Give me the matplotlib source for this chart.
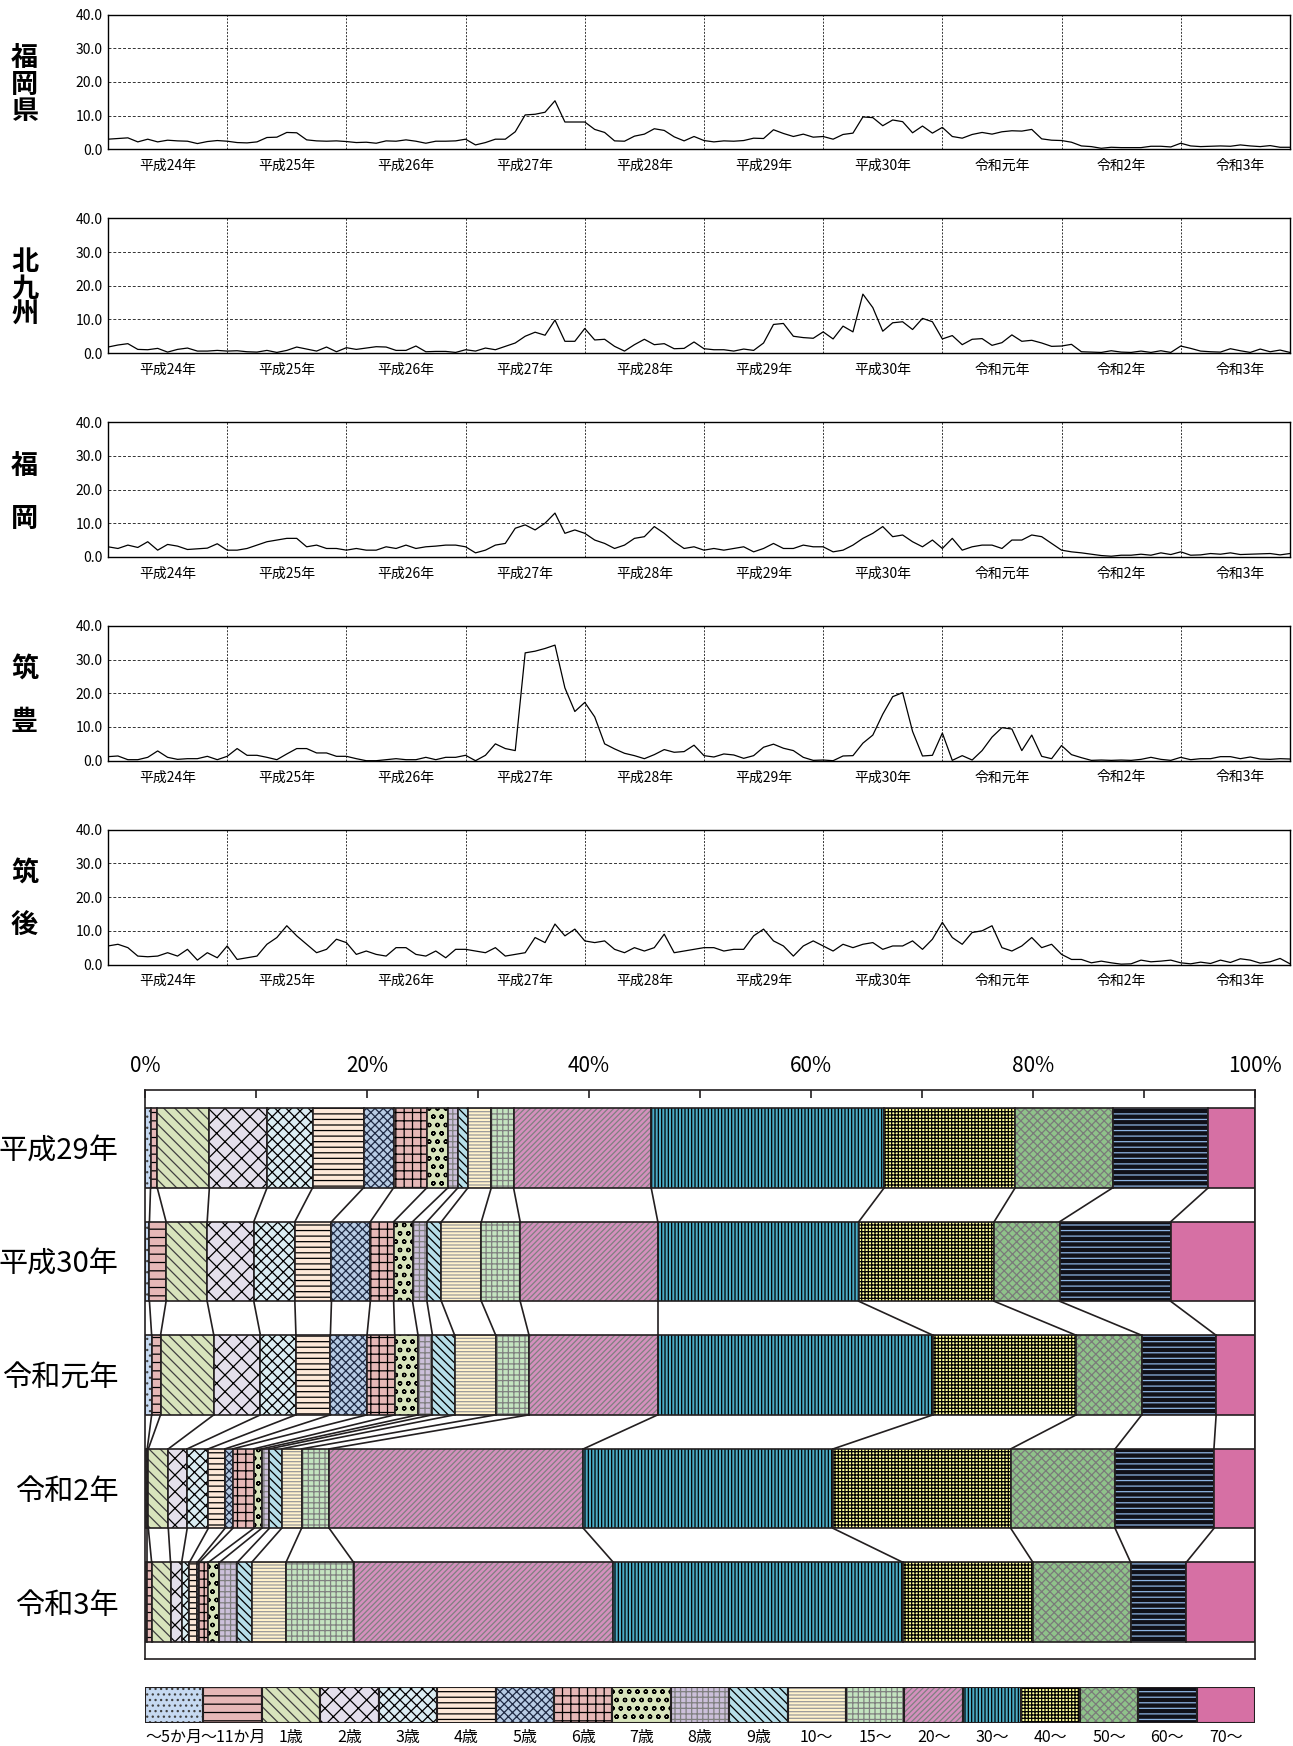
import numpy as np
import matplotlib.pyplot as plt

plt.rcParams['font.family'] = ['Noto Sans CJK JP', 'DejaVu Sans']
plt.rcParams['hatch.linewidth'] = 0.9

# 月別推移（平成24年1月～令和3年12月）
regions = ['福岡県', '北九州', '福岡', '筑豊', '筑後']
year_labels = ['平成24年', '平成25年', '平成26年', '平成27年', '平成28年',
               '平成29年', '平成30年', '令和元年', '令和2年', '令和3年']

fukuoka_pref = [3.0, 3.2, 3.4, 2.2, 3.0, 2.2, 2.7, 2.5, 2.4, 1.7, 2.3, 2.6,
                2.4, 2.0, 1.9, 2.2, 3.5, 3.6, 5.0, 4.9, 2.8, 2.5, 2.4, 2.5,
                2.3, 2.0, 2.1, 1.8, 2.5, 2.4, 2.8, 2.4, 1.8, 2.4, 2.4, 2.5,
                3.0, 1.3, 2.0, 3.0, 3.0, 5.2, 10.2, 10.4, 11.0, 14.4, 8.1, 8.1,
                8.1, 5.9, 5.0, 2.5, 2.4, 3.9, 4.5, 6.1, 5.6, 3.7, 2.5, 3.8,
                2.6, 2.2, 2.5, 2.4, 2.6, 3.3, 3.2, 5.8, 4.7, 3.8, 4.5, 3.6,
                3.8, 3.0, 4.4, 4.8, 9.6, 9.4, 7.0, 8.7, 8.2, 4.9, 6.9, 4.8,
                6.5, 3.8, 3.3, 4.4, 5.0, 4.5, 5.2, 5.5, 5.4, 5.9, 3.1, 2.7,
                2.6, 2.1, 1.0, 0.8, 0.3, 0.6, 0.5, 0.5, 0.5, 0.9, 0.9, 0.7,
                1.8, 1.0, 0.8, 0.9, 1.0, 0.9, 1.3, 1.0, 0.8, 1.1, 0.6, 0.6]
kitakyushu = [1.8, 2.4, 2.8, 1.1, 1.0, 1.4, 0.3, 1.1, 1.5, 0.6, 0.6, 0.8,
              0.6, 0.7, 0.4, 0.3, 0.8, 0.2, 0.8, 1.8, 1.2, 0.6, 1.8, 0.4,
              1.6, 1.1, 1.5, 1.9, 1.8, 0.8, 0.8, 2.1, 0.4, 0.5, 0.5, 0.2,
              1.0, 0.6, 1.5, 1.0, 2.0, 3.0, 5.0, 6.2, 5.3, 9.8, 3.5, 3.5,
              7.3, 3.9, 4.1, 2.0, 0.6, 2.5, 4.1, 2.5, 2.8, 1.3, 1.4, 3.3,
              1.3, 1.0, 1.0, 0.6, 1.2, 0.8, 3.0, 8.5, 8.8, 5.0, 4.6, 4.4,
              6.3, 4.2, 8.0, 6.3, 17.5, 13.5, 6.5, 9.0, 9.3, 7.0, 10.3, 9.3,
              4.2, 5.2, 2.5, 4.1, 4.3, 2.3, 3.1, 5.4, 3.5, 3.8, 3.0, 2.0,
              2.1, 2.6, 0.4, 0.3, 0.2, 0.7, 0.3, 0.2, 0.6, 0.2, 0.7, 0.2,
              2.1, 1.4, 0.6, 0.4, 0.3, 1.3, 0.7, 0.2, 1.2, 0.4, 0.9, 0.2]
fukuoka = [3.0, 2.5, 3.5, 2.8, 4.5, 2.0, 3.7, 3.2, 2.2, 2.4, 2.6, 3.9,
           2.0, 2.0, 2.5, 3.5, 4.5, 5.0, 5.5, 5.5, 3.0, 3.5, 2.5, 2.5,
           2.0, 2.5, 2.0, 2.0, 3.0, 2.5, 3.5, 2.5, 3.0, 3.2, 3.5, 3.5,
           3.0, 1.2, 2.0, 3.5, 4.0, 8.5, 9.5, 8.0, 10.0, 13.0, 7.0, 8.0,
           7.0, 5.0, 4.0, 2.5, 3.5, 5.5, 6.0, 9.0, 7.0, 4.5, 2.5, 3.0,
           2.0, 2.5, 2.0, 2.5, 3.0, 1.5, 2.5, 4.0, 2.5, 2.5, 3.5, 3.0,
           3.0, 1.5, 2.0, 3.5, 5.5, 7.0, 9.0, 6.0, 6.5, 4.5, 3.0, 5.0,
           2.5, 5.5, 2.0, 3.0, 3.5, 3.5, 2.5, 5.0, 5.0, 6.5, 6.0, 4.0,
           2.0, 1.5, 1.2, 0.8, 0.4, 0.2, 0.5, 0.5, 0.8, 0.5, 1.2, 0.7,
           1.5, 0.5, 0.6, 1.0, 0.8, 1.2, 0.7, 0.8, 0.9, 1.0, 0.6, 1.0]
chikuho = [1.2, 1.4, 0.3, 0.3, 1.0, 2.9, 1.0, 0.4, 0.6, 0.6, 1.3, 0.3,
           1.3, 3.6, 1.6, 1.6, 1.0, 0.3, 2.0, 3.6, 3.6, 2.3, 2.3, 1.3,
           1.3, 0.6, 0.0, 0.0, 0.3, 0.6, 0.3, 0.3, 1.0, 0.3, 1.0, 1.0,
           1.6, 0.0, 1.6, 5.0, 3.6, 3.0, 32.0, 32.5, 33.3, 34.3, 21.6, 14.6,
           17.3, 13.0, 5.0, 3.5, 2.2, 1.5, 0.6, 1.8, 3.3, 2.5, 2.7, 4.6,
           1.5, 1.1, 2.0, 1.7, 0.7, 1.5, 4.0, 4.9, 3.7, 3.0, 1.0, 0.1,
           0.2, 0.0, 1.4, 1.5, 5.2, 7.6, 13.8, 19.0, 20.2, 8.7, 1.4, 1.6,
           8.2, 0.1, 1.5, 0.2, 3.0, 7.0, 9.8, 9.4, 3.0, 7.6, 1.3, 0.6,
           4.5, 1.8, 0.9, 0.1, 0.2, 0.1, 0.2, 0.1, 0.4, 1.0, 0.4, 0.1,
           1.0, 0.3, 0.6, 0.6, 1.2, 1.2, 0.6, 1.1, 0.5, 0.4, 0.6, 0.5]
chikugo = [5.5, 6.0, 5.0, 2.5, 2.3, 2.5, 3.5, 2.5, 4.5, 1.3, 3.5, 2.0,
           5.5, 1.5, 2.0, 2.5, 6.0, 8.0, 11.5, 8.5, 6.0, 3.5, 4.5, 7.5,
           6.5, 3.0, 4.0, 3.0, 2.5, 5.0, 5.0, 3.0, 2.5, 4.0, 2.0, 4.5,
           4.5, 4.0, 3.5, 5.0, 2.5, 3.0, 3.5, 8.0, 6.5, 12.0, 8.5, 10.5,
           7.0, 6.5, 7.0, 4.5, 3.5, 5.0, 4.0, 5.0, 9.0, 3.5, 4.0, 4.5,
           5.0, 5.0, 4.0, 4.5, 4.5, 8.5, 10.5, 7.0, 5.5, 2.5, 5.5, 7.0,
           5.5, 4.0, 6.0, 5.0, 6.0, 6.5, 4.5, 5.5, 5.5, 7.0, 4.5, 7.5,
           12.5, 8.0, 6.0, 9.5, 10.0, 11.5, 5.0, 4.0, 5.5, 8.0, 5.0, 6.0,
           3.0, 1.5, 1.5, 0.5, 1.0, 0.5, 0.1, 0.2, 1.3, 0.8, 1.0, 1.3,
           0.5, 0.2, 0.7, 0.3, 1.3, 0.6, 1.7, 1.3, 0.4, 0.8, 1.8, 0.2]
series = [fukuoka_pref, kitakyushu, fukuoka, chikuho, chikugo]

# 年齢別割合（%）
bar_years = ['平成29年', '平成30年', '令和元年', '令和2年', '令和3年']
age_groups = ['～5か月', '～11か月', '1歳', '2歳', '3歳', '4歳', '5歳', '6歳', '7歳',
              '8歳', '9歳', '10～', '15～', '20～', '30～', '40～', '50～', '60～', '70～']
share_h29 = [0.5, 0.6, 4.7, 5.2, 4.1, 4.6, 2.7, 3.0, 1.9, 0.9, 0.9, 2.1, 2.0, 12.4, 21.0, 11.8, 8.8, 8.6, 4.2]
share_h30 = [0.4, 1.5, 3.7, 4.2, 3.7, 3.3, 3.5, 2.1, 1.7, 1.3, 1.3, 3.6, 3.5, 12.4, 18.1, 12.2, 5.9, 10.0, 7.6]
share_r1 = [0.6, 0.8, 4.8, 4.2, 3.2, 3.1, 3.3, 2.5, 2.1, 1.3, 2.0, 3.7, 3.0, 11.6, 24.8, 12.9, 5.9, 6.7, 3.5]
share_r2 = [0.2, 0.1, 1.8, 1.7, 1.9, 1.5, 0.7, 1.9, 0.7, 0.7, 1.1, 1.8, 2.5, 22.9, 22.5, 16.0, 9.4, 8.9, 3.7]
share_r3 = [0.2, 0.4, 1.7, 1.0, 0.7, 0.7, 0.2, 0.8, 1.0, 1.6, 1.3, 3.1, 6.1, 23.4, 26.1, 11.7, 8.8, 5.0, 6.2]

face_colors = ['#c6d9f1', '#e6b8b7', '#d8e4bc', '#e4dfec', '#dbeef3', '#fde9d9', '#b8cce4',
               '#e6b8b7', '#d8e4bc', '#ccc0da', '#b7dee8', '#fff2cc', '#c4e4c0', '#d490bd',
               '#4bacc6', '#ffff99', '#8fc28a', '#101018', '#d670a4']
hatch_colors = ['#404040', '#000000', '#404040', '#000000', '#000000', '#000000', '#1f2a44',
                '#000000', '#000000', '#808080', '#000000', '#999999', '#808080', '#808080',
                '#000000', '#000000', '#7a7a7a', '#8db3e2', '#d670a4']
hatches = ['...', '--', '\\\\\\', 'xx', 'xxx', '---', 'xxxx', '++', 'oo', '+++', '\\\\\\\\',
           '-----', '+++', '//////', '|||||', '+++++', 'xxxx', '---', '']

W, H = 1293, 1746
fig = plt.figure(figsize=(W / 100, H / 100), dpi=100)

x = np.arange(120)
for k, (name, vals) in enumerate(zip(regions, series)):
    top = 14.5 + 203.8 * k
    ax = fig.add_axes([108 / W, 1 - (top + 134.8) / H, 1182 / W, 134.8 / H])
    ax.plot(x, vals, color='black', lw=0.9)
    ax.set_xlim(0, 119)
    ax.set_ylim(0, 40)
    ax.set_yticks([0, 10, 20, 30, 40])
    ax.set_yticklabels(['%.1f' % v for v in [0, 10, 20, 30, 40]], fontsize=10)
    ax.set_xticks(np.arange(12, 120, 12))
    ax.set_xticklabels([])
    ax.set_xticks(np.arange(6, 120, 12), minor=True)
    ax.set_xticklabels(year_labels, minor=True, fontsize=10)
    ax.tick_params(which='both', length=0)
    ax.tick_params(axis='x', which='minor', pad=7)
    ax.tick_params(axis='y', pad=4)
    ax.grid(axis='y', ls=(0, (3, 2)), color='#333333', lw=0.7)
    ax.grid(axis='x', which='major', ls=(0, (2, 1.5)), color='#333333', lw=0.7)
    for s in ax.spines.values():
        s.set_color('black')
        s.set_linewidth(1.0)
    n = len(name)
    step = 0.197 if n == 3 else 0.39
    for i, ch in enumerate(name):
        ax.text(-0.0706, 0.48 + step * ((n - 1) / 2 - i), ch, transform=ax.transAxes,
                ha='center', va='center', fontsize=19.5, fontweight='bold')

# 年齢別構成比
shares = np.array([share_h29, share_h30, share_r1, share_r2, share_r3])
cum = np.cumsum(shares, axis=1)
rows = np.arange(len(bar_years))
bh = 0.7
edge = '#231f20'

axb = fig.add_axes([145 / W, 1 - 1659 / H, 1110 / W, 569 / H])
for j in range(len(age_groups)):
    left = cum[:, j] - shares[:, j]
    axb.barh(rows, shares[:, j], left=left, height=bh, color=face_colors[j],
             edgecolor=hatch_colors[j], hatch=hatches[j], lw=0)
    axb.barh(rows, shares[:, j], left=left, height=bh, fill=False, edgecolor=edge, lw=1.2)
for i in range(len(bar_years) - 1):
    for j in range(len(age_groups)):
        axb.plot([cum[i, j], cum[i + 1, j]], [i + bh / 2, i + 1 - bh / 2], color=edge, lw=1.2)
axb.set_xlim(0, 100)
axb.set_ylim(4.5, -0.51)
axb.xaxis.tick_top()
axb.set_xticks(np.arange(0, 101, 10))
axb.set_xticklabels(['%d%%' % v if v % 20 == 0 else '' for v in range(0, 101, 10)], fontsize=15)
axb.tick_params(axis='x', direction='in', length=6, width=1.2, color=edge, pad=9)
axb.set_yticks(rows)
axb.set_yticklabels(bar_years, fontsize=21)
axb.tick_params(axis='y', length=0, pad=19)
for s in axb.spines.values():
    s.set_color(edge)
    s.set_linewidth(1.2)

# 凡例
axl = fig.add_axes([145 / W, 1 - 1723 / H, 1110 / W, 36 / H])
pos = np.arange(len(age_groups)) + 0.5
for j in range(len(age_groups)):
    axl.bar(pos[j], 1, width=1, color=face_colors[j], edgecolor=hatch_colors[j],
            hatch=hatches[j], lw=0)
    axl.bar(pos[j], 1, width=1, fill=False, edgecolor=edge, lw=1.5)
axl.set_xlim(0, len(age_groups))
axl.set_ylim(0, 1)
axl.set_xticks(pos)
axl.set_xticklabels(age_groups, fontsize=11.5)
axl.set_yticks([])
axl.tick_params(axis='x', length=0, pad=4)
for s in axl.spines.values():
    s.set_visible(False)

fig.savefig('out.png', dpi=100)
